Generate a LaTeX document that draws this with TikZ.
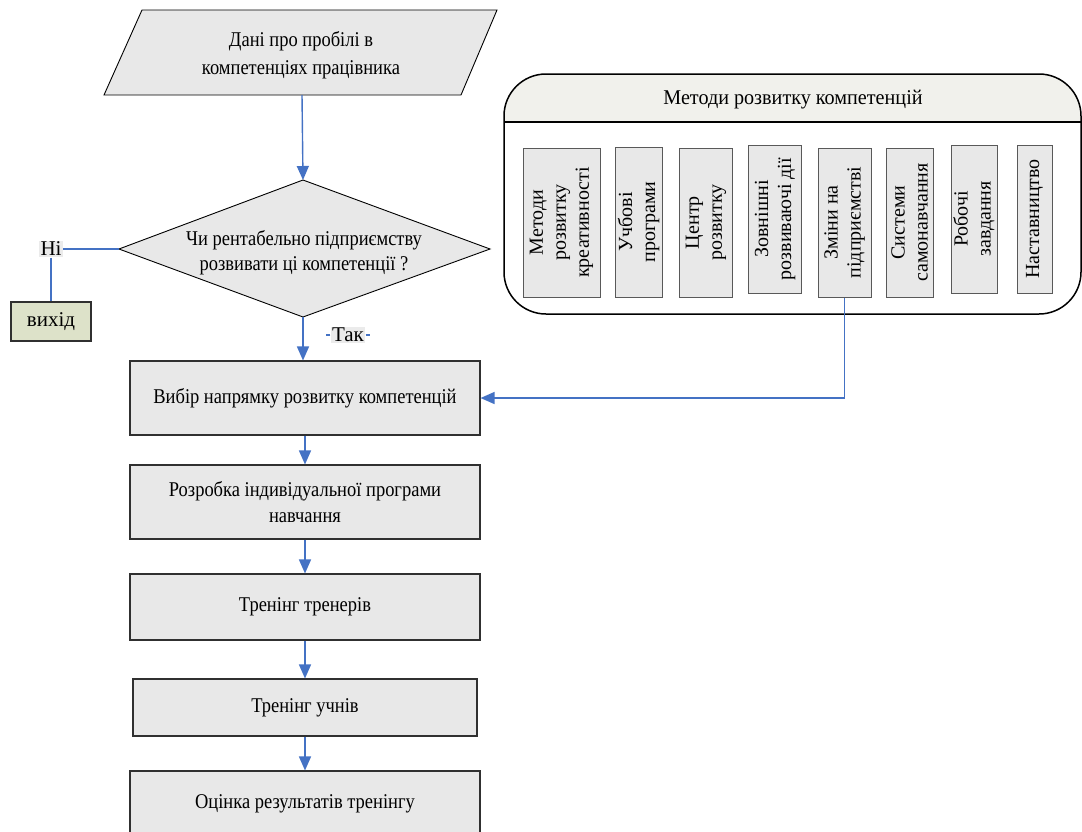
\documentclass[tikz,border=0pt]{standalone}
\usepackage{fontspec}
\setmainfont{Liberation Serif}
\newfontfamily\flatfont{Liberation Serif}[FakeStretch=0.88]
\newfontfamily\headfont{Liberation Serif}[FakeStretch=0.96]
\usetikzlibrary{arrows.meta}

\definecolor{boxfill}{HTML}{E8E8E8}
\definecolor{flowblue}{HTML}{4472C4}
\definecolor{headfill}{HTML}{F1F1EC}
\definecolor{exitfill}{HTML}{DDE2C9}
\definecolor{edgegray}{HTML}{303030}
\definecolor{labelfill}{HTML}{EBEBEB}

\begin{document}
\begin{tikzpicture}[x=1pt,y=-1pt,
  txt/.style={font=\flatfont\fontsize{21}{26}\selectfont, align=center},
  plain/.style={font=\fontsize{21}{25}\selectfont},
  procbox/.style={draw=edgegray, line width=1.1pt, fill=boxfill, inner sep=0pt, txt},
  methbox/.style={draw=gray!70!black, line width=1pt, fill=boxfill, inner sep=0pt},
  vtxt/.style={rotate=90, font=\fontsize{20}{23}\selectfont, align=center},
  flow/.style={draw=flowblue, line width=1.4pt, -{Triangle[length=14pt,width=12pt]}},
  link/.style={draw=flowblue, line width=1.4pt},
  tag/.style={fill=labelfill, inner sep=1.5pt, plain}
]
\useasboundingbox (0,0) rectangle (1082,831);

% input data (parallelogram)
\draw[fill=boxfill, line width=0.9pt] (142,10) -- (497,10) -- (461,95) -- (104,95) -- cycle;
\node[txt, font=\flatfont\fontsize{21}{28}\selectfont] (data) at (301,55) {Дані про пробілі в\\компетенціях працівника};
\coordinate (datab) at (302,95);

% decision
\coordinate (dtop) at (303,180);
\coordinate (dright) at (490,249);
\coordinate (dbot) at (303,317);
\coordinate (dleft) at (119,249);
\draw[fill=boxfill, line width=0.9pt] (dtop) -- (dright) -- (dbot) -- (dleft) -- cycle;
\node[txt, font=\flatfont\fontsize{21}{25}\selectfont] (ask) at (304,253) {Чи рентабельно підприємству\\розвивати ці компетенції ?};

% "no" branch
\node[tag] (no) at (51,249) {Ні};
\node[draw=edgegray, line width=1.1pt, fill=exitfill, minimum width=80pt, minimum height=39pt, inner sep=0pt, plain] (exit) at (51,321.5) {вихід};

% "yes" label
\node[tag] (yes) at (348,335) {Так};

% process chain
\node[procbox, minimum width=350pt, minimum height=74pt] (b1) at (305,398) {Вибір напрямку розвитку компетенцій};
\node[procbox, minimum width=350pt, minimum height=74pt] (b2) at (305,502) {Розробка індивідуальної програми\\навчання};
\node[procbox, minimum width=350pt, minimum height=66pt] (b3) at (305,607) {Тренінг тренерів};
\node[procbox, minimum width=344pt, minimum height=57pt] (b4) at (305,707.5) {Тренінг учнів};
\node[procbox, minimum width=350pt, minimum height=65pt] (b5) at (305,803.5) {Оцінка результатів тренінгу};

% container of development methods
\begin{scope}
  \fill[white, rounded corners=42pt] (504,74) rectangle (1081,314);
  \clip[rounded corners=42pt] (504,74) rectangle (1081,314);
  \fill[headfill] (500,70) rectangle (1085,122);
\end{scope}
\draw[line width=1.5pt, rounded corners=42pt] (504,74) rectangle (1081,314);
\draw[line width=1.3pt] (504,122) -- (1081,122);
\node[font=\headfont\fontsize{21}{25}\selectfont] (head) at (793,100) {Методи розвитку компетенцій};

\node[methbox, minimum width=77pt, minimum height=149pt] (m1) at (561.5,222.5) {};
\node[vtxt] at (m1) {Методи\\розвитку\\креативності};
\node[methbox, minimum width=47pt, minimum height=150pt] (m2) at (638.5,222) {};
\node[vtxt] at (m2) {Учбові\\програми};
\node[methbox, minimum width=53pt, minimum height=149pt] (m3) at (706,222.5) {};
\node[vtxt] at (m3) {Центр\\розвитку};
\node[methbox, minimum width=53pt, minimum height=148pt] (m4) at (775,219) {};
\node[vtxt] at (m4) {Зовнішні\\розвиваючі дії};
\node[methbox, minimum width=53pt, minimum height=149pt] (m5) at (844.5,222.5) {};
\node[vtxt] at (m5) {Зміни на\\підприємстві};
\node[methbox, minimum width=47pt, minimum height=149pt] (m6) at (909.5,222.5) {};
\node[vtxt] at (m6) {Системи\\самонавчання};
\node[methbox, minimum width=46pt, minimum height=148pt] (m7) at (974,219) {};
\node[vtxt] at (m7) {Робочі\\завдання};
\node[methbox, minimum width=35pt, minimum height=148pt] (m8) at (1034.5,219) {};
\node[vtxt] at (m8) {Наставництво};

% connectors
\draw[flow] (datab) -- (dtop);
\draw[link] (dleft) -- (no.east);
\draw[link] (no.south) -- (exit.north);
\draw[flow] (dbot) -- (dbot |- b1.north);
\draw[link] (yes.west) -- ++(-4,0);
\draw[link] (yes.east) -- ++(4,0);
\draw[flow] (m5.south) |- (b1.east);
\draw[flow] (b1) -- (b2);
\draw[flow] (b2) -- (b3);
\draw[flow] (b3) -- (b4);
\draw[flow] (b4) -- (b5);
\end{tikzpicture}
\end{document}
